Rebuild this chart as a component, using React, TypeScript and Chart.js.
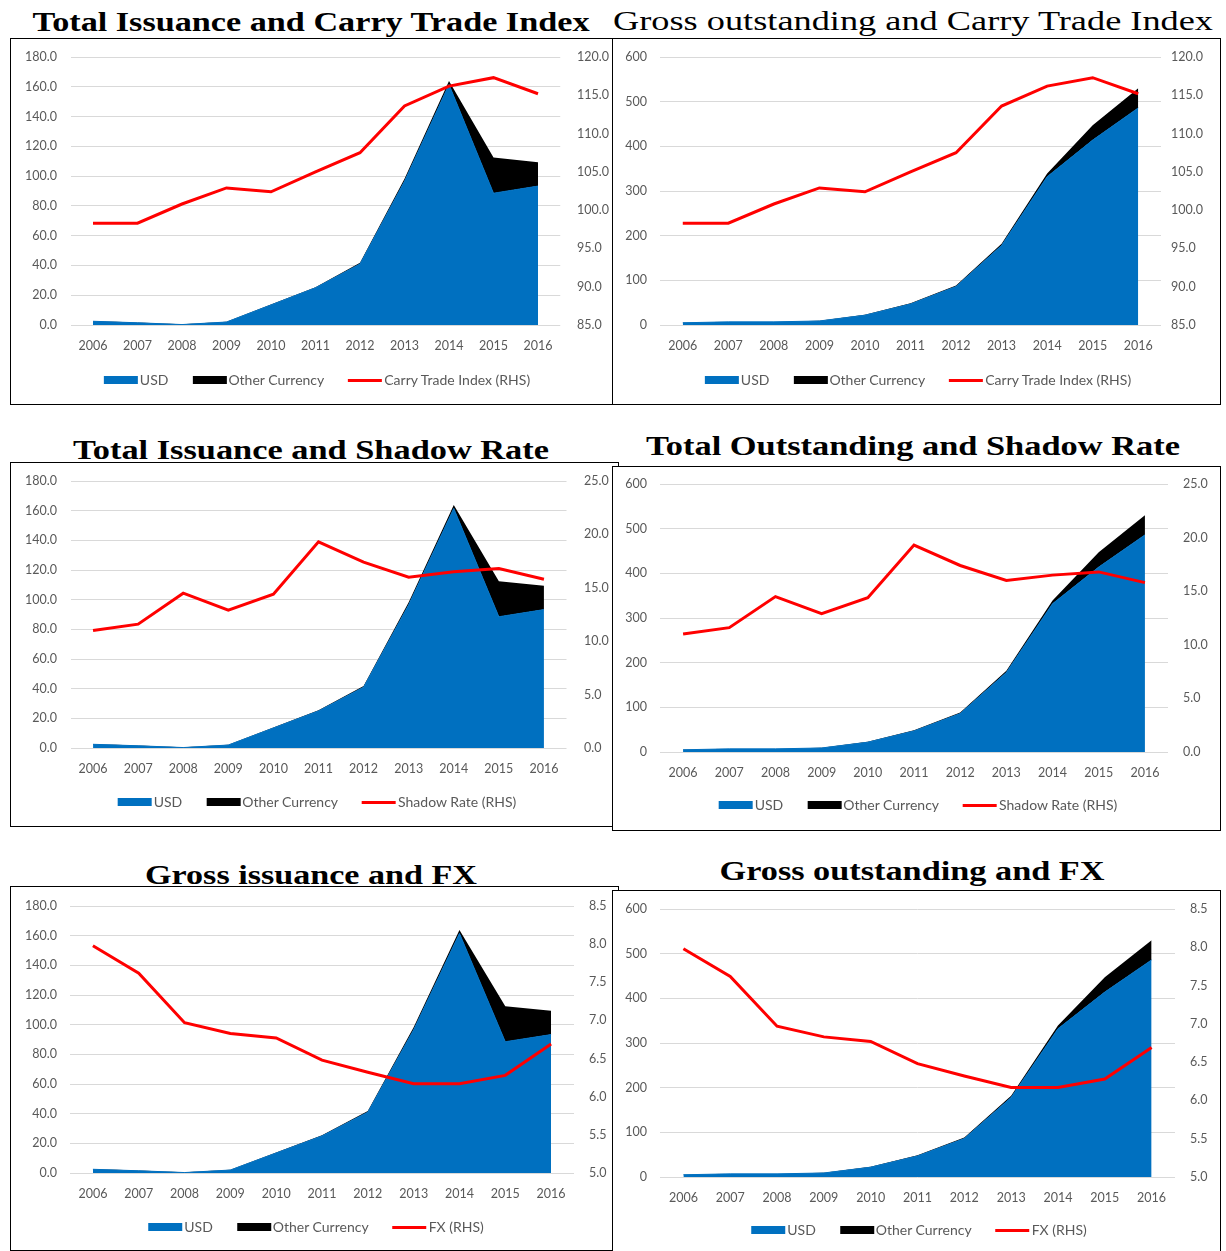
import React, { useEffect, useRef } from "react";
import { Chart, registerables } from "chart.js";

Chart.register(...registerables);

// ---------------- data ----------------
const years = ["2006", "2007", "2008", "2009", "2010", "2011", "2012", "2013", "2014", "2015", "2016"];

const issuanceUSD = [2.5, 1.5, 0.3, 2.0, 13.5, 25.0, 41.0, 96.5, 161.5, 88.5, 93.3];
const issuanceOther = [0.2, 0.2, 0.2, 0.2, 0.3, 0.4, 0.8, 1.8, 2.3, 24.0, 16.0];

const outstandingUSD = [5, 7, 7, 9, 22, 47, 86, 178, 332, 414, 486];
const outstandingOther = [0.5, 0.5, 0.5, 0.5, 1, 1.5, 2.5, 4, 7, 33, 44];

const carryTradeIndex = [98.3, 98.3, 100.8, 102.9, 102.4, 105.0, 107.5, 113.6, 116.2, 117.3, 115.2];
const shadowRate = [11.0, 11.6, 14.5, 12.9, 14.4, 19.3, 17.4, 16.0, 16.5, 16.8, 15.8];
const fxRate = [7.98, 7.62, 6.97, 6.83, 6.77, 6.48, 6.32, 6.17, 6.17, 6.28, 6.69];

const legendUSD = "USD";
const legendOther = "Other Currency";

// ---------------- styles ----------------
const BLUE = "#0070C0";
const RED = "#FF0000";
const GRID = "#D9D9D9";
const TEXT = "#595959";
const FONT = "Lato, 'Open Sans', sans-serif";

type Box = { x: number; y: number; w: number; h: number };
type Plot = { left: number; right: number; top: number; bottom: number };
type Axis = { min: number; max: number; step: number; decimals: number };

type PanelSpec = {
  title: string;
  bold: boolean;
  titleCx: number;
  titleBaseline: number;
  titleWidth: number;
  box: Box;
  plot: Plot;
  leftLabelRight: number;
  rightLabelX: number;
  legendY: number;
  legendCx: number;
  usd: number[];
  other: number[];
  line: number[];
  lineLabel: string;
  leftAxis: Axis;
  rightAxis: Axis;
};

const issuanceAxis: Axis = { min: 0, max: 180, step: 20, decimals: 1 };
const outstandingAxis: Axis = { min: 0, max: 600, step: 100, decimals: 0 };
const carryAxis: Axis = { min: 85, max: 120, step: 5, decimals: 1 };
const shadowAxis: Axis = { min: 0, max: 25, step: 5, decimals: 1 };
const fxAxis: Axis = { min: 5, max: 8.5, step: 0.5, decimals: 1 };

const panels: PanelSpec[] = [
  {
    title: "Total Issuance and Carry Trade Index",
    bold: true,
    titleCx: 311,
    titleBaseline: 31,
    titleWidth: 557,
    box: { x: 10, y: 38, w: 603, h: 367 },
    plot: { left: 70.75, right: 560.25, top: 57, bottom: 325 },
    leftLabelRight: 57,
    rightLabelX: 577,
    legendY: 380,
    legendCx: 317,
    usd: issuanceUSD,
    other: issuanceOther,
    line: carryTradeIndex,
    lineLabel: "Carry Trade Index (RHS)",
    leftAxis: issuanceAxis,
    rightAxis: carryAxis,
  },
  {
    title: "Gross outstanding and Carry Trade Index",
    bold: false,
    titleCx: 913,
    titleBaseline: 30,
    titleWidth: 600,
    box: { x: 612, y: 38, w: 609, h: 367 },
    plot: { left: 660, right: 1161, top: 57, bottom: 325 },
    leftLabelRight: 647,
    rightLabelX: 1171,
    legendY: 380,
    legendCx: 918,
    usd: outstandingUSD,
    other: outstandingOther,
    line: carryTradeIndex,
    lineLabel: "Carry Trade Index (RHS)",
    leftAxis: outstandingAxis,
    rightAxis: carryAxis,
  },
  {
    title: "Total Issuance and Shadow Rate",
    bold: true,
    titleCx: 311,
    titleBaseline: 459,
    titleWidth: 476,
    box: { x: 10, y: 462, w: 609, h: 365 },
    plot: { left: 70.5, right: 566.5, top: 481, bottom: 748 },
    leftLabelRight: 57,
    rightLabelX: 584,
    legendY: 802,
    legendCx: 317,
    usd: issuanceUSD,
    other: issuanceOther,
    line: shadowRate,
    lineLabel: "Shadow Rate (RHS)",
    leftAxis: issuanceAxis,
    rightAxis: shadowAxis,
  },
  {
    title: "Total Outstanding and Shadow Rate",
    bold: true,
    titleCx: 913,
    titleBaseline: 455,
    titleWidth: 534,
    box: { x: 612, y: 466, w: 609, h: 365 },
    plot: { left: 660, right: 1168, top: 484, bottom: 752 },
    leftLabelRight: 647,
    rightLabelX: 1183,
    legendY: 805,
    legendCx: 918,
    usd: outstandingUSD,
    other: outstandingOther,
    line: shadowRate,
    lineLabel: "Shadow Rate (RHS)",
    leftAxis: outstandingAxis,
    rightAxis: shadowAxis,
  },
  {
    title: "Gross issuance and FX",
    bold: true,
    titleCx: 311,
    titleBaseline: 884,
    titleWidth: 332,
    box: { x: 10, y: 886, w: 609, h: 365 },
    plot: { left: 70, right: 574, top: 906, bottom: 1173 },
    leftLabelRight: 57,
    rightLabelX: 589,
    legendY: 1227,
    legendCx: 316,
    usd: issuanceUSD,
    other: issuanceOther,
    line: fxRate,
    lineLabel: "FX (RHS)",
    leftAxis: issuanceAxis,
    rightAxis: fxAxis,
  },
  {
    title: "Gross outstanding and FX",
    bold: true,
    titleCx: 912,
    titleBaseline: 880,
    titleWidth: 385,
    box: { x: 612, y: 890, w: 609, h: 362 },
    plot: { left: 660, right: 1175, top: 909, bottom: 1177 },
    leftLabelRight: 647,
    rightLabelX: 1190,
    legendY: 1230,
    legendCx: 919,
    usd: outstandingUSD,
    other: outstandingOther,
    line: fxRate,
    lineLabel: "FX (RHS)",
    leftAxis: outstandingAxis,
    rightAxis: fxAxis,
  },
];

function ChartPanel({ spec }: { spec: PanelSpec }) {
  const ref = useRef<HTMLCanvasElement>(null);
  const ox = spec.box.x + 1;
  const oy = spec.box.y + 1;
  const cw = spec.box.w - 2;
  const ch = spec.box.h - 2;

  useEffect(() => {
    const canvas = ref.current;
    if (!canvas) return;
    const tickFont = { family: FONT, size: 12.5 };
    const chart = new Chart(canvas, {
      type: "line",
      data: {
        labels: years,
        datasets: [
          {
            label: legendUSD,
            data: spec.usd,
            yAxisID: "y",
            fill: "origin",
            backgroundColor: BLUE,
            borderColor: BLUE,
            borderWidth: 1,
            pointRadius: 0,
            tension: 0,
            order: 2,
          },
          {
            label: legendOther,
            data: spec.other,
            yAxisID: "y",
            fill: "-1",
            backgroundColor: "#000000",
            borderColor: "rgba(0,0,0,0)",
            borderWidth: 1,
            pointRadius: 0,
            tension: 0,
            order: 3,
          },
          {
            label: spec.lineLabel,
            data: spec.line,
            yAxisID: "y1",
            fill: false,
            borderColor: RED,
            borderWidth: 3,
            pointRadius: 0,
            tension: 0,
            order: 1,
          },
        ],
      },
      options: {
        responsive: false,
        maintainAspectRatio: false,
        animation: false,
        devicePixelRatio: 1,
        layout: {
          autoPadding: false,
          padding: { top: spec.plot.top - oy, left: 0, right: 0, bottom: 0 },
        },
        plugins: {
          legend: { display: false },
          tooltip: { enabled: false },
          title: { display: false },
        },
        scales: {
          x: {
            offset: true,
            grid: { display: false },
            border: { display: false },
            ticks: {
              color: TEXT,
              font: tickFont,
              autoSkip: false,
              maxRotation: 0,
              padding: 5,
            },
            afterFit: (s: any) => {
              s.height = oy + ch - spec.plot.bottom;
              s.paddingLeft = 0;
              s.paddingRight = 0;
            },
          },
          y: {
            stacked: true,
            position: "left",
            min: spec.leftAxis.min,
            max: spec.leftAxis.max,
            grid: { color: GRID, lineWidth: 1, drawTicks: false },
            border: { display: false },
            ticks: {
              stepSize: spec.leftAxis.step,
              color: TEXT,
              font: tickFont,
              padding: spec.plot.left - spec.leftLabelRight,
              callback: (v: any) => Number(v).toFixed(spec.leftAxis.decimals),
            },
            afterFit: (s: any) => {
              s.width = spec.plot.left - ox;
              s.paddingTop = 0;
              s.paddingBottom = 0;
            },
          },
          y1: {
            position: "right",
            min: spec.rightAxis.min,
            max: spec.rightAxis.max,
            grid: { display: false, drawTicks: false },
            border: { display: false },
            ticks: {
              stepSize: spec.rightAxis.step,
              color: TEXT,
              font: tickFont,
              padding: spec.rightLabelX - spec.plot.right,
              callback: (v: any) => Number(v).toFixed(spec.rightAxis.decimals),
            },
            afterFit: (s: any) => {
              s.width = ox + cw - spec.plot.right;
              s.paddingTop = 0;
              s.paddingBottom = 0;
            },
          },
        },
      } as any,
    });
    return () => chart.destroy();
  }, [spec]);

  const legendItems = [
    { label: legendUSD, color: BLUE, h: 8 },
    { label: legendOther, color: "#000000", h: 8 },
    { label: spec.lineLabel, color: RED, h: 3 },
  ];

  return (
    <div
      style={{
        position: "absolute",
        left: spec.box.x,
        top: spec.box.y,
        width: spec.box.w,
        height: spec.box.h,
        border: "1px solid #000",
        boxSizing: "border-box",
        background: "#fff",
      }}
    >
      <canvas
        ref={ref}
        width={cw}
        height={ch}
        style={{ position: "absolute", left: 0, top: 0, width: cw, height: ch }}
      />
      <div
        style={{
          position: "absolute",
          left: spec.legendCx - ox,
          top: spec.legendY - oy,
          transform: "translate(-50%, -50%)",
          display: "flex",
          alignItems: "center",
          whiteSpace: "nowrap",
          fontFamily: FONT,
          fontSize: 14,
          color: TEXT,
          lineHeight: "16px",
        }}
      >
        {legendItems.map((it, i) => (
          <div
            key={i}
            style={{ display: "flex", alignItems: "center", marginLeft: i === 0 ? 0 : 24 }}
          >
            <span
              style={{
                display: "inline-block",
                width: 34,
                height: it.h,
                background: it.color,
                marginRight: 2,
              }}
            />
            <span>{it.label}</span>
          </div>
        ))}
      </div>
    </div>
  );
}

export default function App() {
  return (
    <div
      style={{
        position: "absolute",
        left: 0,
        top: 0,
        width: 1226,
        height: 1251,
        background: "#fff",
        overflow: "hidden",
      }}
    >
      <svg width={1226} height={1251} style={{ position: "absolute", left: 0, top: 0 }}>
        {panels.map((p, i) => (
          <text
            key={i}
            x={p.titleCx - p.titleWidth / 2}
            y={p.titleBaseline}
            textLength={p.titleWidth}
            lengthAdjust="spacingAndGlyphs"
            fontFamily="'Liberation Serif', 'DejaVu Serif', serif"
            fontWeight={p.bold ? 700 : 400}
            fontSize={27}
            fill="#000"
          >
            {p.title}
          </text>
        ))}
      </svg>
      {panels.map((p, i) => (
        <ChartPanel key={i} spec={p} />
      ))}
    </div>
  );
}
